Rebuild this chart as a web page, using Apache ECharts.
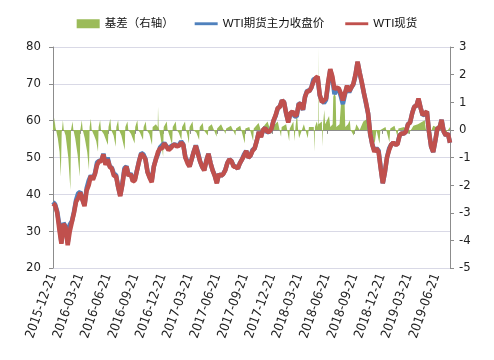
<!DOCTYPE html>
<html><head><meta charset="utf-8">
<script src="https://cdn.jsdelivr.net/npm/echarts@6/dist/echarts.min.js"></script>
<style>html,body{margin:0;padding:0;background:#fff}#c{width:494px;height:360px}</style>
</head><body><div id="c"></div>
<script>
// x-axis tick labels (quarterly)
const xTickLabels = ['2015-12-21','2016-03-21','2016-06-21','2016-09-21','2016-12-21','2017-03-21','2017-06-21','2017-09-21','2017-12-21','2018-03-21','2018-06-21','2018-09-21','2018-12-21','2019-03-21','2019-06-21'];
const xStart = '2015-12-21';
const xEnd = '2019-08-05';
// weekly samples, first week = 2015-12-21 (Mondays)
const firstWeek = '2015-12-21';
// WTI现货 (spot)
const spot = [
37.5,37.0,
35.0,30.5,26.6,32.0,31.0,26.2,30.0,32.5,35.0,38.0,39.0,40.5,38.5,36.8,41.0,42.5,45.0,44.0,45.5,48.0,49.0,49.0,50.8,48.0,49.5,47.5,47.0,45.0,45.0,42.0,39.5,42.5,46.5,47.5,45.0,45.5,43.5,43.8,46.5,49.0,51.0,50.5,49.5,46.0,44.5,43.3,47.5,49.5,51.5,52.5,52.5,53.8,
53.0,52.0,52.5,53.2,53.5,53.0,53.2,54.0,53.5,50.0,48.5,47.5,49.5,51.5,53.2,51.0,49.0,47.5,46.5,49.0,51.0,48.5,46.5,45.0,43.0,45.5,45.0,45.5,46.5,48.5,49.5,49.0,47.5,47.5,47.0,48.5,49.5,50.5,51.8,50.0,50.5,51.8,52.5,54.5,57.0,55.5,57.5,58.0,57.0,57.0,57.8,60.0,
61.5,63.5,63.7,65.5,65.0,62.0,59.5,62.0,62.5,61.5,61.5,64.5,64.5,63.0,66.5,68.0,68.0,69.0,70.5,71.5,72.0,67.0,65.0,65.5,66.0,70.5,74.0,72.0,68.5,69.0,68.8,67.5,65.5,67.5,69.5,68.0,69.0,70.0,72.5,76.0,73.0,70.5,67.5,65.0,62.0,56.5,53.5,51.5,52.5,51.5,47.0,43.0,46.0,
50.0,52.0,53.5,54.0,53.5,53.5,56.0,56.5,56.5,57.0,59.0,59.5,62.0,63.8,64.0,66.0,63.5,61.5,62.0,62.5,57.0,53.0,51.5,54.5,58.0,58.0,60.2,57.0,56.0,56.5,54.0
];
// WTI期货主力收盘价 (main futures close)
const futures = [
37.9,37.3,
35.3,31.7,26.9,32.2,31.3,26.8,31.8,32.7,35.3,38.5,40.3,40.7,38.7,37.1,41.6,43.7,45.1,44.2,45.8,48.7,49.1,49.1,51.0,48.3,50.0,47.6,47.2,45.5,45.3,42.1,39.7,42.8,47.1,47.6,45.1,45.7,43.8,44.2,46.6,49.1,51.2,50.9,49.6,46.1,44.7,43.8,47.6,49.6,51.0,52.8,53.4,53.9,
53.1,52.2,53.0,53.3,53.6,53.1,53.4,54.4,53.6,50.1,49.0,47.6,49.5,51.6,53.3,51.4,49.0,47.5,46.6,49.2,51.0,48.5,46.5,45.2,43.2,45.5,45.0,45.5,46.6,48.5,49.5,49.0,47.7,47.5,47.0,48.5,49.5,50.9,51.8,50.0,50.5,52.1,52.5,54.5,56.9,55.7,57.5,58.0,56.8,57.0,57.9,60.0,
61.3,63.3,63.9,65.5,65.0,61.9,59.8,62.0,62.3,61.2,61.1,64.7,64.5,62.9,66.5,68.2,68.0,69.0,71.2,71.4,71.6,66.8,65.5,64.8,65.7,70.1,73.8,71.4,67.2,68.4,68.6,66.7,64.5,67.1,69.4,67.7,69.0,69.9,72.3,75.9,73.0,70.3,67.5,64.7,62.0,56.5,53.5,51.9,52.5,51.9,47.3,43.0,46.0,
50.0,52.4,53.5,54.0,53.5,53.8,56.0,56.5,56.5,57.0,59.1,59.5,62.0,63.8,64.0,65.8,63.5,61.5,61.7,62.5,57.0,53.0,51.5,54.5,58.0,58.0,60.2,57.0,56.0,56.5,54.0
];
// 基差（右轴）: [date, value]
const basis = [
['2015-12-21',0.4],['2015-12-24',0.1],['2015-12-26',0.45],['2015-12-29',0.1],
['2016-01-06',-0.3],['2016-01-12',-0.8],['2016-01-16',-1.7],['2016-01-19',-0.1],['2016-01-23',0.35],['2016-01-26',0.0],
['2016-02-01',-0.2],['2016-02-10',-1.0],['2016-02-17',-2.18],['2016-02-19',0.0],['2016-02-24',0.3],['2016-02-27',0.0],
['2016-03-04',-0.3],['2016-03-12',-0.9],['2016-03-19',-1.7],['2016-03-21',0.0],['2016-03-26',0.35],['2016-03-29',0.0],
['2016-04-05',-0.3],['2016-04-13',-0.8],['2016-04-19',-1.46],['2016-04-21',0.1],['2016-04-25',0.4],['2016-04-28',0.0],
['2016-05-06',-0.2],['2016-05-13',-0.4],['2016-05-19',-0.79],['2016-05-21',0.1],['2016-05-26',0.35],['2016-05-29',0.0],
['2016-06-07',-0.15],['2016-06-21',-0.55],['2016-06-23',0.1],['2016-06-29',0.4],['2016-07-02',0.0],
['2016-07-10',-0.2],['2016-07-17',-0.61],['2016-07-19',0.1],['2016-07-25',0.35],['2016-07-28',0.0],
['2016-08-05',-0.2],['2016-08-16',-0.73],['2016-08-18',0.1],['2016-08-25',0.3],['2016-08-28',0.0],
['2016-09-06',-0.15],['2016-09-18',-0.49],['2016-09-20',0.1],['2016-09-27',0.35],['2016-09-30',0.0],
['2016-10-06',-0.1],['2016-10-16',-0.37],['2016-10-18',0.1],['2016-10-25',0.3],['2016-10-28',0.0],
['2016-11-06',-0.15],['2016-11-15',-0.55],['2016-11-17',0.1],['2016-11-28',0.2],
['2016-12-04',0.1],['2016-12-05',0.84],['2016-12-07',0.1],['2016-12-14',-0.3],['2016-12-22',-0.97],['2016-12-24',0.1],
['2017-01-03',0.3],['2017-01-06',0.0],['2017-01-12',-0.2],['2017-01-21',-0.55],['2017-01-23',0.1],['2017-02-02',0.3],['2017-02-05',0.0],
['2017-02-12',-0.1],['2017-02-21',-0.37],['2017-02-23',0.1],['2017-03-05',0.3],['2017-03-08',0.0],
['2017-03-12',-0.15],['2017-03-18',-0.49],['2017-03-20',0.1],['2017-03-30',0.3],['2017-04-02',0.0],
['2017-04-12',-0.1],['2017-04-21',-0.37],['2017-04-23',0.1],['2017-05-03',0.25],['2017-05-06',0.0],
['2017-05-20',-0.2],['2017-05-22',0.1],['2017-06-02',0.2],['2017-06-18',-0.25],['2017-06-20',0.05],
['2017-07-03',0.2],['2017-07-18',-0.15],['2017-07-20',0.05],['2017-08-05',0.15],['2017-08-20',-0.2],['2017-08-22',0.05],
['2017-09-05',0.15],['2017-09-20',-0.49],['2017-09-22',0.05],['2017-10-05',0.1],['2017-10-18',-0.4],['2017-10-20',0.05],
['2017-11-05',0.25],['2017-11-18',-0.2],['2017-11-20',0.1],['2017-12-05',0.3],['2017-12-18',-0.15],['2017-12-20',0.1],
['2018-01-08',0.3],['2018-01-19',-0.25],['2018-01-21',0.1],['2018-02-05',0.2],['2018-02-15',-0.4],['2018-02-17',0.05],
['2018-03-01',0.3],['2018-03-05',-0.4],['2018-03-08',0.1],['2018-03-13',0.6],['2018-03-16',0.1],['2018-03-20',-0.3],
['2018-04-05',0.2],['2018-04-18',-0.3],['2018-04-22',0.1],['2018-05-08',0.1],['2018-05-10',-0.79],['2018-05-12',0.1],
['2018-05-18',0.3],['2018-05-22',0.1],['2018-05-23',3.0],['2018-05-24',0.2],['2018-06-04',0.3],['2018-06-06',-0.6],['2018-06-08',0.2],
['2018-06-12',0.72],['2018-06-15',0.2],['2018-06-28',0.5],['2018-07-02',0.1],['2018-07-10',0.2],
['2018-07-12',1.2],['2018-07-16',1.33],['2018-07-20',1.2],['2018-07-22',0.1],['2018-08-02',0.2],
['2018-08-07',1.0],['2018-08-13',1.08],['2018-08-19',0.9],['2018-08-21',0.1],['2018-08-30',0.2],
['2018-09-05',0.35],['2018-09-08',0.0],['2018-09-18',-0.2],['2018-09-27',0.2],['2018-10-08',0.0],
['2018-10-20',0.3],['2018-11-03',0.4],['2018-11-05',-0.3],['2018-11-12',0.1],['2018-11-27',-0.5],['2018-12-03',0.0],
['2018-12-13',-0.5],['2018-12-16',0.0],['2019-01-02',0.1],['2019-01-15',-0.45],['2019-01-18',0.05],
['2019-02-01',0.15],['2019-02-11',-0.25],['2019-02-14',0.05],['2019-03-05',0.1],['2019-03-20',-0.15],
['2019-04-05',0.15],['2019-04-20',0.2],['2019-05-13',0.35],['2019-05-16',0.05],['2019-05-28',-0.2],
['2019-06-10',0.15],['2019-06-20',0.1],['2019-07-05',0.2],['2019-07-20',-0.15],['2019-08-05',0.1]
];

function ts(s){const p=s.split('-');return Date.UTC(+p[0],+p[1]-1,+p[2]);}
function weekTs(i){const p=firstWeek.split('-');return Date.UTC(+p[0],+p[1]-1,+p[2]+7*i);}
function pad(n){return (n<10?'0':'')+n;}
const spotData = spot.map((v,i)=>[weekTs(i),v]);
const futData = futures.map((v,i)=>[weekTs(i),v]);
const basisData = basis.map(d=>[ts(d[0]),d[1]]);
const tickTs = xTickLabels.map(ts);

const FONT = "'Liberation Sans Narrow','Arial Narrow','DejaVu Sans Condensed','Liberation Sans',sans-serif";
const LINE_ICON = 'path://M0,0H80V10H0Z';
const chart = echarts.init(document.getElementById('c'), null, {renderer:'canvas'});
chart.setOption({
  animation:false,
  backgroundColor:'#fff',
  legend:{
    top:13, left:'center', itemWidth:23, itemHeight:9, itemGap:21,
    textStyle:{fontSize:11.5, color:'#111', fontFamily:"'Liberation Sans','Noto Sans CJK SC',sans-serif"},
    data:[{name:'基差（右轴）',icon:'rect'},{name:'WTI期货主力收盘价',icon:LINE_ICON},{name:'WTI现货',icon:LINE_ICON}]
  },
  grid:{left:53,right:44,top:47,bottom:92,containLabel:false},
  xAxis:{
    type:'value', min:ts(xStart), max:ts(xEnd), scale:true,
    axisLine:{lineStyle:{color:'#8c8c8c',width:1}},
    axisTick:{show:true,length:4,lineStyle:{color:'#8c8c8c'},customValues:tickTs},
    splitLine:{show:false},
    axisLabel:{customValues:tickTs, rotate:70, fontSize:13, color:'#222', margin:6, fontFamily:FONT,
      formatter:function(v){const i=tickTs.indexOf(v);if(i>=0)return xTickLabels[i];const d=new Date(v);return d.getUTCFullYear()+'-'+pad(d.getUTCMonth()+1)+'-'+pad(d.getUTCDate());}}
  },
  yAxis:[
    {type:'value',min:20,max:80,interval:10,
     axisLine:{show:true,lineStyle:{color:'#8c8c8c'}},
     axisTick:{show:true,length:4,lineStyle:{color:'#8c8c8c'}},
     axisLabel:{fontSize:13,color:'#222',margin:12,fontFamily:FONT},
     splitLine:{show:true,lineStyle:{color:'#d9d9e6',width:1}}},
    {type:'value',min:-5,max:3,interval:1,
     axisLine:{show:true,lineStyle:{color:'#8c8c8c'}},
     axisTick:{show:true,length:4,lineStyle:{color:'#8c8c8c'}},
     axisLabel:{fontSize:13,color:'#222',margin:9,fontFamily:FONT},
     splitLine:{show:false}}
  ],
  series:[
    {name:'基差（右轴）',type:'line',yAxisIndex:1,data:basisData,symbol:'none',
     lineStyle:{width:0,color:'#9BBB59'},itemStyle:{color:'#9BBB59'},
     areaStyle:{color:'#9BBB59',opacity:1,origin:0}},
    {name:'WTI期货主力收盘价',type:'line',data:futData,symbol:'none',
     lineStyle:{width:4.5,color:'#4F81BD'},itemStyle:{color:'#4F81BD'}},
    {name:'WTI现货',type:'line',data:spotData,symbol:'none',
     lineStyle:{width:4.5,color:'#C0504D'},itemStyle:{color:'#C0504D'}}
  ]
});
</script></body></html>
